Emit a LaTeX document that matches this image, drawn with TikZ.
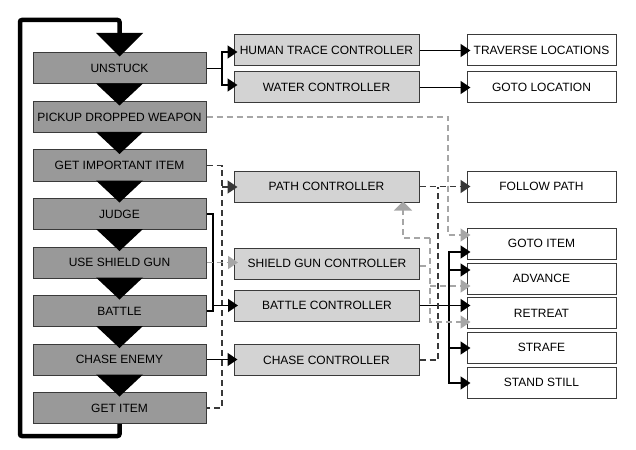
\documentclass[tikz,border=0pt]{standalone}
\usepackage{fontspec}
\setmainfont{Liberation Sans}
\usetikzlibrary{arrows.meta,calc}
\definecolor{lfill}{HTML}{999999}
\definecolor{mfill}{HTML}{D3D3D3}
\definecolor{bdr}{HTML}{3A3A3A}
\definecolor{dk}{HTML}{383838}
\definecolor{lg}{HTML}{A6A6A6}
\begin{document}
\begin{tikzpicture}[x=1pt,y=-1pt,line join=miter,
 box/.style={draw=bdr,line width=1pt,minimum height=31pt,inner sep=0pt,font=\fontsize{12}{14}\selectfont},
 lbox/.style={box,fill=lfill,minimum width=173pt},
 mbox/.style={box,fill=mfill,minimum width=185pt},
 rbox/.style={box,fill=white,minimum width=149pt},
 conn/.style={line width=1.5pt,draw=black},
 darr/.style={-{Triangle[length=10pt,width=13pt]},shorten >=-4pt},
 uarr/.style={-{Triangle[length=9pt,width=18pt]},shorten >=-1pt},
 dkd/.style={line width=1.5pt,draw=dk,dash pattern=on 6pt off 4pt},
 lgd/.style={line width=1.5pt,draw=lg,dash pattern=on 6pt off 4pt},
 loopline/.style={line width=4.5pt,draw=black,rounded corners=2pt},
]
\useasboundingbox (0,0) rectangle (636,449);

% left column
\node[lbox] (unstuck) at (119.5,68.5) {UNSTUCK};
\node[lbox] (pickup) at (119.5,117) {PICKUP DROPPED WEAPON};
\node[lbox] (getimp) at (119.5,165.5) {GET IMPORTANT ITEM};
\node[lbox] (judge) at (119.5,214) {JUDGE};
\node[lbox] (shield) at (119.5,262.5) {USE SHIELD GUN};
\node[lbox] (battle) at (119.5,311) {BATTLE};
\node[lbox] (chase) at (119.5,359.5) {CHASE ENEMY};
\node[lbox] (getitem) at (119.5,408) {GET ITEM};

% middle column
\node[mbox] (human) at (326.5,50.5) {HUMAN TRACE CONTROLLER};
\node[mbox] (water) at (326.5,87.5) {WATER CONTROLLER};
\node[mbox] (path) at (326.5,186.5) {PATH CONTROLLER};
\node[mbox] (shieldc) at (327,263.5) {SHIELD GUN CONTROLLER};
\node[mbox] (battlec) at (327,305.5) {BATTLE CONTROLLER};
\node[mbox] (chasec) at (326.5,360) {CHASE CONTROLLER};

% right column
\node[rbox] (trav) at (541.5,50.5) {TRAVERSE LOCATIONS};
\node[rbox] (gotoloc) at (541.5,87.5) {GOTO LOCATION};
\node[rbox] (follow) at (541.5,186.5) {FOLLOW PATH};
\node[rbox] (gotoitem) at (541.5,243.5) {GOTO ITEM};
\node[rbox] (advance) at (541.5,278.5) {ADVANCE};
\node[rbox] (retreat) at (541.5,313) {RETREAT};
\node[rbox] (strafe) at (541.5,347.5) {STRAFE};
\node[rbox] (standstill) at (541.5,382.5) {STAND STILL};

% loop back
\coordinate (lbr) at (119.5,436);
\coordinate (lbl) at (20,436);
\coordinate (ltl) at (20,20);
\coordinate (ltr) at (119.5,20);
\coordinate (looptop) at (119.5,33);
\draw[loopline] (getitem.south) -- (lbr) -- (lbl) -- (ltl) -- (ltr) -- (looptop);
\fill ($(looptop)+(-23.5,0)$) -- ($(looptop)+(23.5,0)$) -- ($(unstuck.north)+(0,4)$) -- cycle;

% sequence triangles
\foreach \a/\b in {unstuck/pickup,pickup/getimp,getimp/judge,judge/shield,shield/battle,battle/chase,chase/getitem}
  \fill ($(\a.south)+(-23.5,-1)$) -- ($(\a.south)+(23.5,-1)$) -- ($(\b.north)+(0,4.5)$) -- cycle;

% unstuck -> human trace, water
\coordinate (ua) at (222,52);
\coordinate (ub) at (222,85);
\draw[conn] (unstuck.east) -- (unstuck.east -| ua);
\draw[conn,darr] (ub) -- (ua) -- (ua -| human.west);
\draw[conn,darr] (ua) -- (ub) -- (ub -| water.west);
\draw[conn,darr] (human.east) -- (human.east -| trav.west);
\draw[conn,darr] (water.east) -- (water.east -| gotoloc.west);

% pickup -> goto item (grey dashed)
\coordinate (pg) at (448,235);
\draw[lgd,darr] (pickup.east) -| (pg) -- (pg -| gotoitem.west);

% get important item / get item -> path controller
\coordinate (ga) at (222,187);
\draw[dkd] (getimp.east) -| (ga |- getitem.east) -- (getitem.east);
\draw[dkd,darr] (ga) -- (ga -| path.west);

% judge / battle -> battle controller
\coordinate (jb) at (213,305.5);
\draw[conn] (judge.east) -| (jb |- battle.east) -- (battle.east);
\draw[conn,darr] (jb) -- (jb -| battlec.west);

% use shield gun -> shield gun controller
\draw[lgd,darr] (shield.east) -- (shield.east -| shieldc.west);

% chase enemy -> chase controller
\draw[conn,darr] (chase.east) -- (chase.east -| chasec.west);

% battle controller -> actions
\coordinate (b0) at (449,252);
\coordinate (b1) at (449,270);
\coordinate (b4) at (449,348);
\coordinate (b5) at (449,383);
\draw[conn,darr] (battlec.east) -- (battlec.east -| retreat.west);
\draw[conn,darr] (b5) -- (b0) -- (b0 -| gotoitem.west);
\draw[conn,darr] (b0) -- (b5) -- (b5 -| standstill.west);
\draw[conn,darr] (b1) -- (b1 -| advance.west);
\draw[conn,darr] (b4) -- (b4 -| strafe.west);

% path controller / chase controller -> follow path
\coordinate (pc) at (438,186.5);
\draw[dkd,darr] (path.east) -- (path.east -| follow.west);
\draw[dkd] (chasec.east) -| (pc);

% shield gun controller grey network
\coordinate (g1) at (403,238);
\coordinate (g2) at (430,238);
\coordinate (g3) at (430,266);
\coordinate (g4) at (430,286);
\coordinate (g5) at (430,322);
\draw[lgd,uarr] (g2) -- (g1) -- (g1 |- path.south);
\draw[lgd] (shieldc.east |- g3) -- (g3);
\draw[lgd,darr] (g2) -- (g5) -- (g5 -| retreat.west);
\draw[lgd,darr] (g4) -- (g4 -| advance.west);
\end{tikzpicture}
\end{document}
